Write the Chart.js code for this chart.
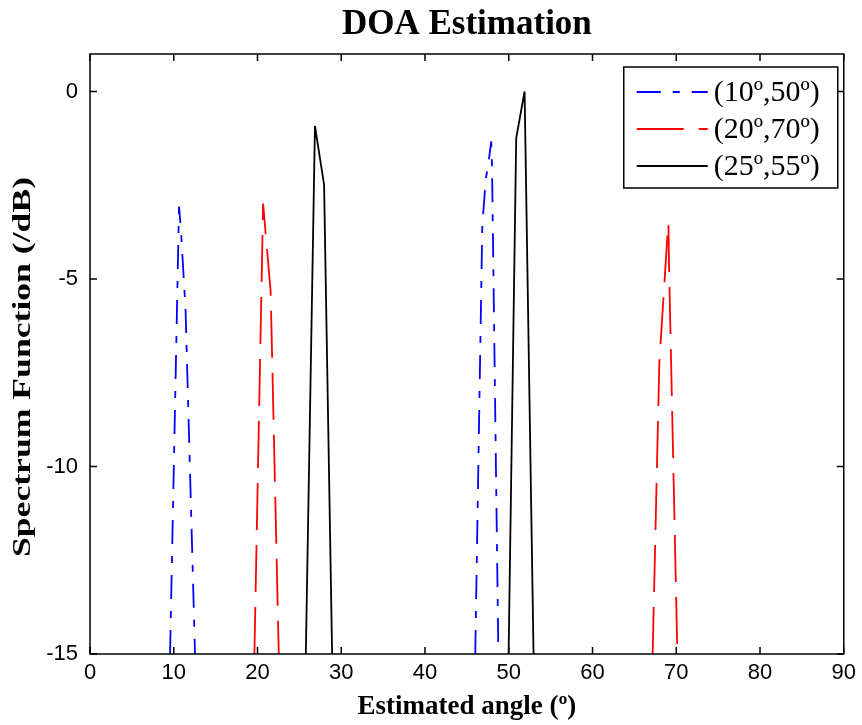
<!DOCTYPE html>
<html>
<head>
<meta charset="utf-8">
<script src="https://cdn.jsdelivr.net/npm/chart.js@4.4.0/dist/chart.umd.min.js"></script>
<style>
    html, body { margin: 0; padding: 0; background: #fff; }
</style>
</head>
<body>
<canvas id="doaChart" width="862" height="725"></canvas>
<script>
// legend labels
const seriesLabels = ['(10º,50º)', '(20º,70º)', '(25º,55º)'];

// (10º,50º) - null splits the two peaks
const blueX = [9.56, 10.63, 10.84, 11.41, 12.54, null, 46.00, 46.84, 47.25, 47.58, 47.91, 48.00, 48.76];
const blueY = [-15, -3.07, -3.63, -5.82, -15, null, -15, -3.58, -2.35, -1.90, -1.33, -1.95, -15];

// (20º,70º)
const redX = [19.63, 20.67, 21.57, 22.54, null, 67.18, 67.98, 68.90, 69.06, 69.14, 70.13];
const redY = [-15, -2.99, -5.34, -15, null, -15, -7.23, -4.00, -3.50, -4.67, -15];

// (25º,55º)
const blackX = [25.77, 26.86, 27.95, 28.91, null, 49.98, 50.89, 51.89, 52.96];
const blackY = [-15, -0.92, -2.49, -15, null, -15, -1.24, 0, -15];

// axis ticks
const xTicks = [0, 10, 20, 30, 40, 50, 60, 70, 80, 90];
const yTicks = [-15, -10, -5, 0];

const toPoints = (xs, ys) => xs.map((x, i) => ({ x: x, y: ys[i] }));

const serif = 'Liberation Serif, Times New Roman, serif';
const sans = 'Liberation Sans, Arial, sans-serif';

// matlab style box with inward ticks, plus the boxed legend
const matlabFrame = {
    id: 'matlabFrame',
    afterDatasetsDraw: (chart) => {
        const ctx = chart.ctx;
        const { left, right, top, bottom } = chart.chartArea;
        const xs = chart.scales.x;
        const ys = chart.scales.y;
        const tl = 7; // tick length

        ctx.save();
        ctx.strokeStyle = '#000';
        ctx.lineWidth = 1.5;
        ctx.strokeRect(left, top, right - left, bottom - top);

        ctx.beginPath();
        xTicks.forEach(v => {
            const px = xs.getPixelForValue(v);
            ctx.moveTo(px, bottom); ctx.lineTo(px, bottom - tl);
            ctx.moveTo(px, top); ctx.lineTo(px, top + tl);
        });
        yTicks.forEach(v => {
            const py = ys.getPixelForValue(v);
            ctx.moveTo(left, py); ctx.lineTo(left + tl, py);
            ctx.moveTo(right, py); ctx.lineTo(right - tl, py);
        });
        ctx.stroke();

        // legend box, top right
        const lw = 214, lh = 121;
        const lx = right - 6 - lw;
        const ly = top + 13;
        ctx.fillStyle = '#fff';
        ctx.fillRect(lx, ly, lw, lh);
        ctx.lineWidth = 1.5;
        ctx.strokeRect(lx, ly, lw, lh);

        ctx.font = '30px ' + serif;
        ctx.textBaseline = 'middle';
        ctx.textAlign = 'left';
        chart.data.datasets.forEach((ds, i) => {
            const rowY = ly + 25 + i * 37;
            ctx.beginPath();
            ctx.strokeStyle = ds.borderColor;
            ctx.lineWidth = ds.borderWidth;
            ctx.setLineDash(ds.borderDash || []);
            ctx.moveTo(lx + 13, rowY);
            ctx.lineTo(lx + 84, rowY);
            ctx.stroke();
            ctx.setLineDash([]);
            ctx.fillStyle = '#000';
            ctx.fillText(ds.label, lx + 90, rowY + 1);
        });
        ctx.restore();
    },
    afterDraw: (chart) => {
        const ctx = chart.ctx;
        const { left, right } = chart.chartArea;
        ctx.save();
        ctx.fillStyle = '#000';

        // chart title centred over the plot area
        ctx.font = 'bold 35px ' + serif;
        ctx.textAlign = 'center';
        ctx.textBaseline = 'alphabetic';
        ctx.fillText('DOA Estimation', (left + right) / 2, 34);

        // y axis title, stretched along its length like the original
        const yTitle = 'Spectrum Function (/dB)';
        ctx.font = 'bold 26px ' + serif;
        const w = ctx.measureText(yTitle).width;
        ctx.translate(23, 367);
        ctx.rotate(-Math.PI / 2);
        ctx.scale(380 / w, 1);
        ctx.textBaseline = 'middle';
        ctx.fillText(yTitle, 0, 0);
        ctx.restore();
    }
};

const ctx = document.getElementById('doaChart').getContext('2d');
const chart = new Chart(ctx, {
    type: 'line',
    data: {
        datasets: [
            {
                label: seriesLabels[0],
                data: toPoints(blueX, blueY),
                borderColor: '#0000ff',
                borderWidth: 1.8,
                borderDash: [24, 12, 7, 12]
            },
            {
                label: seriesLabels[1],
                data: toPoints(redX, redY),
                borderColor: '#ff0000',
                borderWidth: 1.8,
                borderDash: [47, 15]
            },
            {
                label: seriesLabels[2],
                data: toPoints(blackX, blackY),
                borderColor: '#000000',
                borderWidth: 1.8,
                borderDash: []
            }
        ]
    },
    options: {
        responsive: false,
        animation: false,
        spanGaps: false,
        elements: {
            point: { radius: 0 },
            line: { tension: 0, fill: false }
        },
        layout: {
            padding: { left: 0, right: 14, top: 54, bottom: 0 }
        },
        scales: {
            x: {
                type: 'linear',
                min: 0,
                max: 90,
                afterBuildTicks: (scale) => { scale.ticks = xTicks.map(v => ({ value: v })); },
                afterFit: (scale) => { scale.height = 71; },
                grid: { display: false, drawTicks: false },
                border: { display: false },
                ticks: {
                    color: '#000',
                    padding: 6,
                    maxRotation: 0,
                    font: { family: sans, size: 22 }
                },
                title: {
                    display: true,
                    text: 'Estimated angle (º)',
                    color: '#000',
                    font: { family: serif, size: 27, weight: 'bold' },
                    padding: { top: 0, bottom: 2 }
                }
            },
            y: {
                type: 'linear',
                min: -15,
                max: 1,
                afterBuildTicks: (scale) => { scale.ticks = yTicks.map(v => ({ value: v })); },
                afterFit: (scale) => { scale.width = 90; },
                grid: { display: false, drawTicks: false },
                border: { display: false },
                ticks: {
                    color: '#000',
                    padding: 12,
                    font: { family: sans, size: 22 }
                }
            }
        },
        plugins: {
            legend: { display: false },
            title: { display: false },
            tooltip: { enabled: false }
        }
    },
    plugins: [matlabFrame]
});
</script>
</body>
</html>
